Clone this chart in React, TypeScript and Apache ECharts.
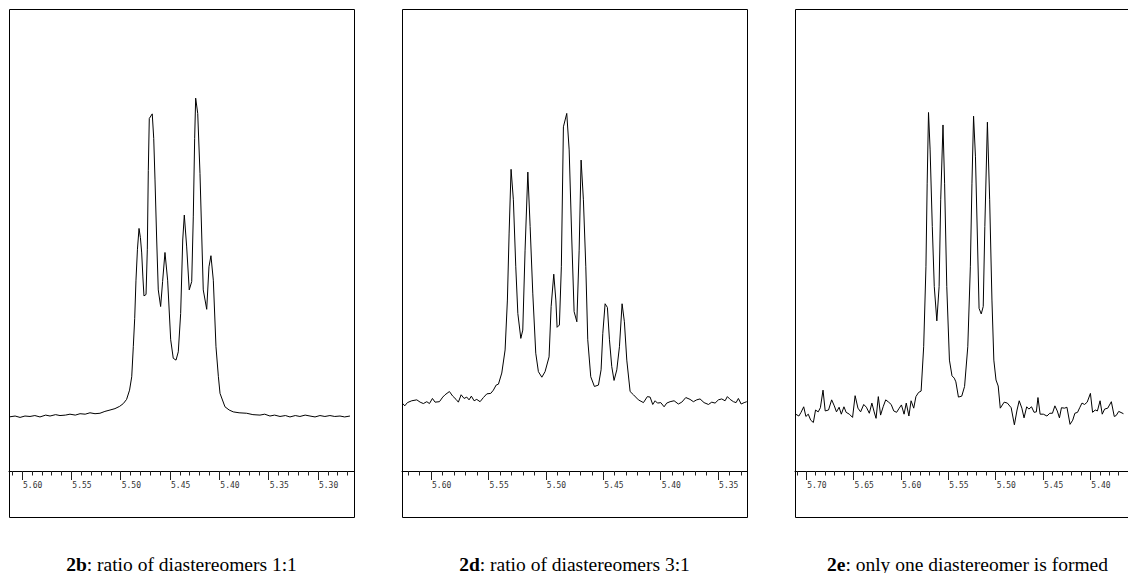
import React, { useEffect, useRef } from "react";
import * as echarts from "echarts";

// Chemical shift (ppm) / intensity pairs
const spectrum2b: [number, number][] = [
  [5.6132, 11.7], [5.607, 11.9], [5.602, 11.6], [5.597, 11.9], [5.5919, 11.8], [5.587, 12.0], [5.5818, 11.7],
  [5.576, 12.1], [5.5716, 11.9], [5.566, 12.2], [5.5615, 12.0], [5.556, 12.1], [5.5514, 12.3], [5.546, 12.1],
  [5.5412, 12.4], [5.536, 12.3], [5.5311, 12.6], [5.526, 12.4], [5.521, 12.5], [5.516, 12.9], [5.5108, 13.2],
  [5.5058, 13.5], [5.501, 14.0], [5.4973, 14.6], [5.494, 15.5], [5.491, 17.5], [5.4888, 20.4], [5.4872, 26.9],
  [5.4858, 33.0], [5.4845, 41.3], [5.483, 48.0], [5.4814, 52.5], [5.48, 50.5], [5.4787, 47.2], [5.4775, 42.0],
  [5.4764, 37.9], [5.4743, 38.2], [5.473, 48.0], [5.472, 65.0], [5.471, 76.3], [5.468, 77.3], [5.4665, 72.0],
  [5.4652, 63.0], [5.4635, 50.0], [5.4619, 39.2], [5.4595, 35.6], [5.4575, 41.0], [5.4551, 47.3], [5.4524, 41.3],
  [5.4493, 28.4], [5.4467, 24.4], [5.4439, 24.0], [5.4416, 25.8], [5.4392, 34.1], [5.4371, 50.0], [5.4355, 55.4],
  [5.4331, 48.5], [5.4305, 39.2], [5.428, 41.0], [5.4264, 55.0], [5.425, 72.0], [5.424, 80.7], [5.4219, 77.4],
  [5.4196, 64.4], [5.4163, 39.2], [5.4128, 35.0], [5.4105, 44.2], [5.4085, 46.6], [5.4061, 41.3], [5.4034, 26.9],
  [5.401, 20.5], [5.3993, 16.8], [5.3943, 13.9], [5.39, 13.2], [5.3859, 12.8], [5.38, 12.6], [5.3723, 12.5],
  [5.366, 12.2], [5.3588, 12.1], [5.354, 12.3], [5.3487, 11.9], [5.344, 12.1], [5.3385, 11.8], [5.333, 12.0],
  [5.3284, 11.7], [5.323, 12.0], [5.3183, 11.8], [5.313, 12.1], [5.3081, 11.9], [5.303, 11.7], [5.298, 12.0],
  [5.293, 11.8], [5.2879, 12.0], [5.283, 11.8], [5.2777, 11.9], [5.273, 11.7], [5.2676, 11.9],
];

const spectrum2d: [number, number][] = [
  [5.6246, 14.6], [5.6229, 14.1], [5.6206, 14.8], [5.6168, 15.2], [5.6124, 15.4], [5.6095, 14.9], [5.6067, 14.6],
  [5.6037, 15.0], [5.6014, 14.6], [5.5988, 15.7], [5.5965, 14.9], [5.5927, 15.0], [5.5898, 16.0], [5.5878, 16.5],
  [5.584, 17.2], [5.5811, 16.2], [5.5782, 15.5], [5.5762, 14.9], [5.5738, 16.5], [5.5712, 15.7], [5.5689, 16.0],
  [5.5669, 15.4], [5.5649, 16.2], [5.5625, 15.2], [5.5602, 15.5], [5.5573, 15.0], [5.5544, 15.9], [5.5514, 16.7],
  [5.548, 16.8], [5.5457, 17.5], [5.5433, 18.6], [5.5413, 18.8], [5.5384, 21.2], [5.5355, 26.2], [5.5335, 37.0],
  [5.532, 51.5], [5.5303, 65.3], [5.5283, 58.7], [5.5262, 44.2], [5.5244, 34.1], [5.5218, 28.7], [5.5201, 30.5],
  [5.5181, 47.8], [5.5157, 64.7], [5.5137, 52.9], [5.5114, 38.5], [5.5088, 25.5], [5.5065, 21.5], [5.5035, 20.3],
  [5.5007, 21.5], [5.4972, 24.7], [5.4954, 35.6], [5.4931, 42.6], [5.4913, 37.0], [5.4902, 31.1], [5.4882, 31.6],
  [5.4865, 44.2], [5.4847, 74.5], [5.4818, 77.4], [5.4797, 69.5], [5.4774, 50.0], [5.4754, 34.5], [5.473, 32.3],
  [5.471, 47.8], [5.4693, 67.3], [5.4673, 58.7], [5.4652, 44.2], [5.4635, 28.4], [5.4609, 20.4], [5.4577, 18.3],
  [5.4542, 18.6], [5.4519, 21.9], [5.4504, 29.8], [5.4484, 36.2], [5.4464, 35.4], [5.4446, 28.4], [5.4426, 22.6],
  [5.4406, 19.6], [5.4382, 21.9], [5.4359, 26.9], [5.4336, 36.2], [5.4316, 32.3], [5.4295, 24.0], [5.4266, 17.2],
  [5.4237, 16.5], [5.4194, 15.4], [5.415, 14.8], [5.4116, 16.1], [5.4092, 16.0], [5.4069, 14.4], [5.4048, 15.2],
  [5.4028, 14.7], [5.3999, 14.8], [5.397, 13.9], [5.3947, 14.7], [5.3918, 15.0], [5.3883, 15.2], [5.3846, 14.5],
  [5.3816, 14.9], [5.3781, 15.9], [5.3744, 15.5], [5.3715, 15.0], [5.3686, 15.4], [5.3657, 15.6], [5.3622, 14.8],
  [5.3584, 14.4], [5.3555, 14.9], [5.3526, 14.7], [5.3497, 15.4], [5.3468, 15.6], [5.3439, 15.2], [5.3419, 16.1],
  [5.3395, 15.5], [5.3366, 15.0], [5.3343, 14.8], [5.3323, 15.7], [5.3299, 14.5], [5.3273, 14.8], [5.325, 15.0],
];

const spectrum2e: [number, number][] = [
  [5.7112, 12.3], [5.7078, 11.9], [5.7055, 12.7], [5.7027, 13.9], [5.7004, 11.8], [5.6979, 12.3], [5.6953, 11.0],
  [5.6925, 10.5], [5.6902, 13.2], [5.6874, 12.8], [5.6851, 13.7], [5.6823, 17.5], [5.68, 13.0], [5.6765, 13.2],
  [5.6732, 15.4], [5.6704, 14.1], [5.6681, 12.8], [5.6653, 13.8], [5.663, 12.3], [5.6602, 13.9], [5.6579, 12.7],
  [5.6545, 12.3], [5.6511, 11.6], [5.6484, 16.3], [5.6454, 13.6], [5.6426, 12.8], [5.6393, 14.4], [5.6365, 13.8],
  [5.6334, 12.5], [5.6307, 14.7], [5.6283, 12.8], [5.6263, 11.4], [5.6239, 16.1], [5.6215, 12.1], [5.6188, 13.9],
  [5.6161, 15.4], [5.613, 14.9], [5.6103, 14.4], [5.6076, 13.0], [5.6046, 12.7], [5.6018, 13.6], [5.5995, 14.3],
  [5.5967, 12.3], [5.5944, 14.7], [5.5916, 11.9], [5.5893, 15.2], [5.5865, 13.6], [5.5842, 16.1], [5.5814, 17.0],
  [5.5787, 17.3], [5.576, 26.9], [5.5736, 44.2], [5.5723, 62.3], [5.5709, 77.6], [5.5692, 69.5], [5.5669, 52.9],
  [5.5648, 39.9], [5.5621, 32.5], [5.5597, 39.9], [5.558, 58.7], [5.5556, 74.9], [5.5539, 62.3], [5.5516, 39.9],
  [5.5488, 24.0], [5.5461, 20.6], [5.5437, 20.1], [5.542, 19.3], [5.5393, 16.0], [5.5358, 16.2], [5.5328, 18.3],
  [5.5294, 26.9], [5.5267, 44.2], [5.525, 62.3], [5.5233, 76.8], [5.5213, 68.0], [5.5192, 50.0], [5.5175, 35.2],
  [5.5152, 34.0], [5.5131, 35.6], [5.5114, 52.9], [5.5087, 75.5], [5.5063, 58.7], [5.5039, 37.0], [5.5019, 24.0],
  [5.4996, 19.7], [5.4973, 18.4], [5.4951, 13.6], [5.491, 14.9], [5.4876, 14.7], [5.4836, 13.7], [5.4802, 10.0],
  [5.4774, 13.2], [5.4751, 15.2], [5.4723, 13.6], [5.47, 11.5], [5.4672, 13.9], [5.4649, 13.4], [5.4621, 13.9],
  [5.4594, 12.7], [5.457, 12.8], [5.4553, 15.9], [5.453, 12.3], [5.4496, 12.3], [5.4458, 11.9], [5.4428, 12.5],
  [5.44, 12.5], [5.4374, 14.1], [5.4349, 13.0], [5.4326, 11.5], [5.4305, 13.7], [5.4272, 13.6], [5.4247, 13.8],
  [5.4214, 10.1], [5.4186, 11.0], [5.4163, 12.5], [5.4135, 12.7], [5.4112, 13.7], [5.4088, 14.7], [5.4061, 14.4],
  [5.4033, 14.9], [5.3999, 16.8], [5.3976, 12.7], [5.3948, 13.2], [5.3925, 13.0], [5.3897, 15.2], [5.3874, 12.3],
  [5.3849, 13.4], [5.3816, 13.6], [5.3778, 15.0], [5.3747, 11.8], [5.3727, 12.0], [5.37, 12.9], [5.365, 12.4],
];

// Labelled (major) tick values for each panel
const majorTicks2b = [5.6, 5.55, 5.5, 5.45, 5.4, 5.35, 5.3];
const majorTicks2d = [5.6, 5.55, 5.5, 5.45, 5.4, 5.35];
const majorTicks2e = [5.7, 5.65, 5.6, 5.55, 5.5, 5.45, 5.4];

// Minor tick ranges (hundredths of ppm) for each panel
const minorRange2b = [527, 561];
const minorRange2d = [533, 562];
const minorRange2e = [537, 571];

const captionKeys = ["2b", "2d", "2e"];
const captionTexts = [": ratio of diastereomers 1:1", ": ratio of diastereomers 3:1", ": only one diastereomer is formed"];

function minorTicks(range: number[]): number[] {
  const out: number[] = [];
  for (let k = range[0]; k <= range[1]; k++) {
    if (k % 5 !== 0) out.push(k / 100);
  }
  return out;
}

const PANEL_W = 345;
const PLOT_TOP = 9;
const PLOT_H = 462;
const BOX_H = 508;

const panels = [
  { data: spectrum2b, min: 5.2635, max: 5.6132, left: 9, major: majorTicks2b, minor: minorTicks(minorRange2b) },
  { data: spectrum2d, min: 5.3248, max: 5.6253, left: 402, major: majorTicks2d, minor: minorTicks(minorRange2d) },
  { data: spectrum2e, min: 5.3602, max: 5.7119, left: 795, major: majorTicks2e, minor: minorTicks(minorRange2e) },
];

function buildOption(): any {
  const grid: any[] = [];
  const xAxis: any[] = [];
  const yAxis: any[] = [];
  const series: any[] = [];
  const graphic: any[] = [];

  panels.forEach((p, i) => {
    grid.push({ left: p.left, top: PLOT_TOP, width: PANEL_W, height: PLOT_H, show: false, containLabel: false });
    xAxis.push({
      gridIndex: i,
      type: "value",
      inverse: true,
      min: p.min,
      max: p.max,
      position: "bottom",
      axisLine: { show: true, lineStyle: { color: "#000", width: 1 } },
      axisTick: { show: true, customValues: p.major, length: 9, lineStyle: { color: "#222", width: 1 } },
      axisLabel: {
        show: true,
        customValues: p.major,
        formatter: (v: number) => v.toFixed(2),
        align: "left",
        margin: 10,
        fontSize: 8,
        fontFamily: "DejaVu Sans Mono",
        color: "#333",
        padding: [0, 0, 0, 1],
      },
      splitLine: { show: false },
    });
    xAxis.push({
      gridIndex: i,
      type: "value",
      inverse: true,
      min: p.min,
      max: p.max,
      position: "bottom",
      axisLine: { show: false },
      axisTick: { show: true, customValues: p.minor, length: 4.5, lineStyle: { color: "#222", width: 1 } },
      axisLabel: { show: false },
      splitLine: { show: false },
    });
    yAxis.push({ gridIndex: i, type: "value", min: 0, max: 100, show: false });
    series.push({
      type: "line",
      xAxisIndex: i * 2,
      yAxisIndex: i,
      data: p.data,
      showSymbol: false,
      symbol: "none",
      silent: true,
      lineStyle: { color: "#000", width: 1 },
    });
    graphic.push({
      type: "rect",
      silent: true,
      shape: { x: p.left + 0.5, y: PLOT_TOP + 0.5, width: PANEL_W, height: BOX_H },
      style: { fill: "none", stroke: "#000", lineWidth: 1 },
    });
    graphic.push({
      type: "text",
      silent: true,
      x: p.left + PANEL_W / 2,
      y: 564,
      style: {
        text: "{b|" + captionKeys[i] + "}" + captionTexts[i],
        fontFamily: "Liberation Serif",
        fontSize: 19.5,
        fill: "#000",
        align: "center",
        verticalAlign: "middle",
        rich: { b: { fontWeight: "bold", fontFamily: "Liberation Serif", fontSize: 19.5, fill: "#000" } },
      },
    });
  });

  return { animation: false, backgroundColor: "#fff", grid, xAxis, yAxis, series, graphic };
}

export default function App() {
  const ref = useRef<HTMLDivElement>(null);
  useEffect(() => {
    if (!ref.current) return;
    const chart = echarts.init(ref.current, null, { renderer: "svg" });
    chart.setOption(buildOption());
    return () => chart.dispose();
  }, []);
  return (
    <div
      ref={ref}
      style={{ position: "fixed", left: 0, top: 0, width: 1128, height: 573, background: "#fff" }}
    />
  );
}
